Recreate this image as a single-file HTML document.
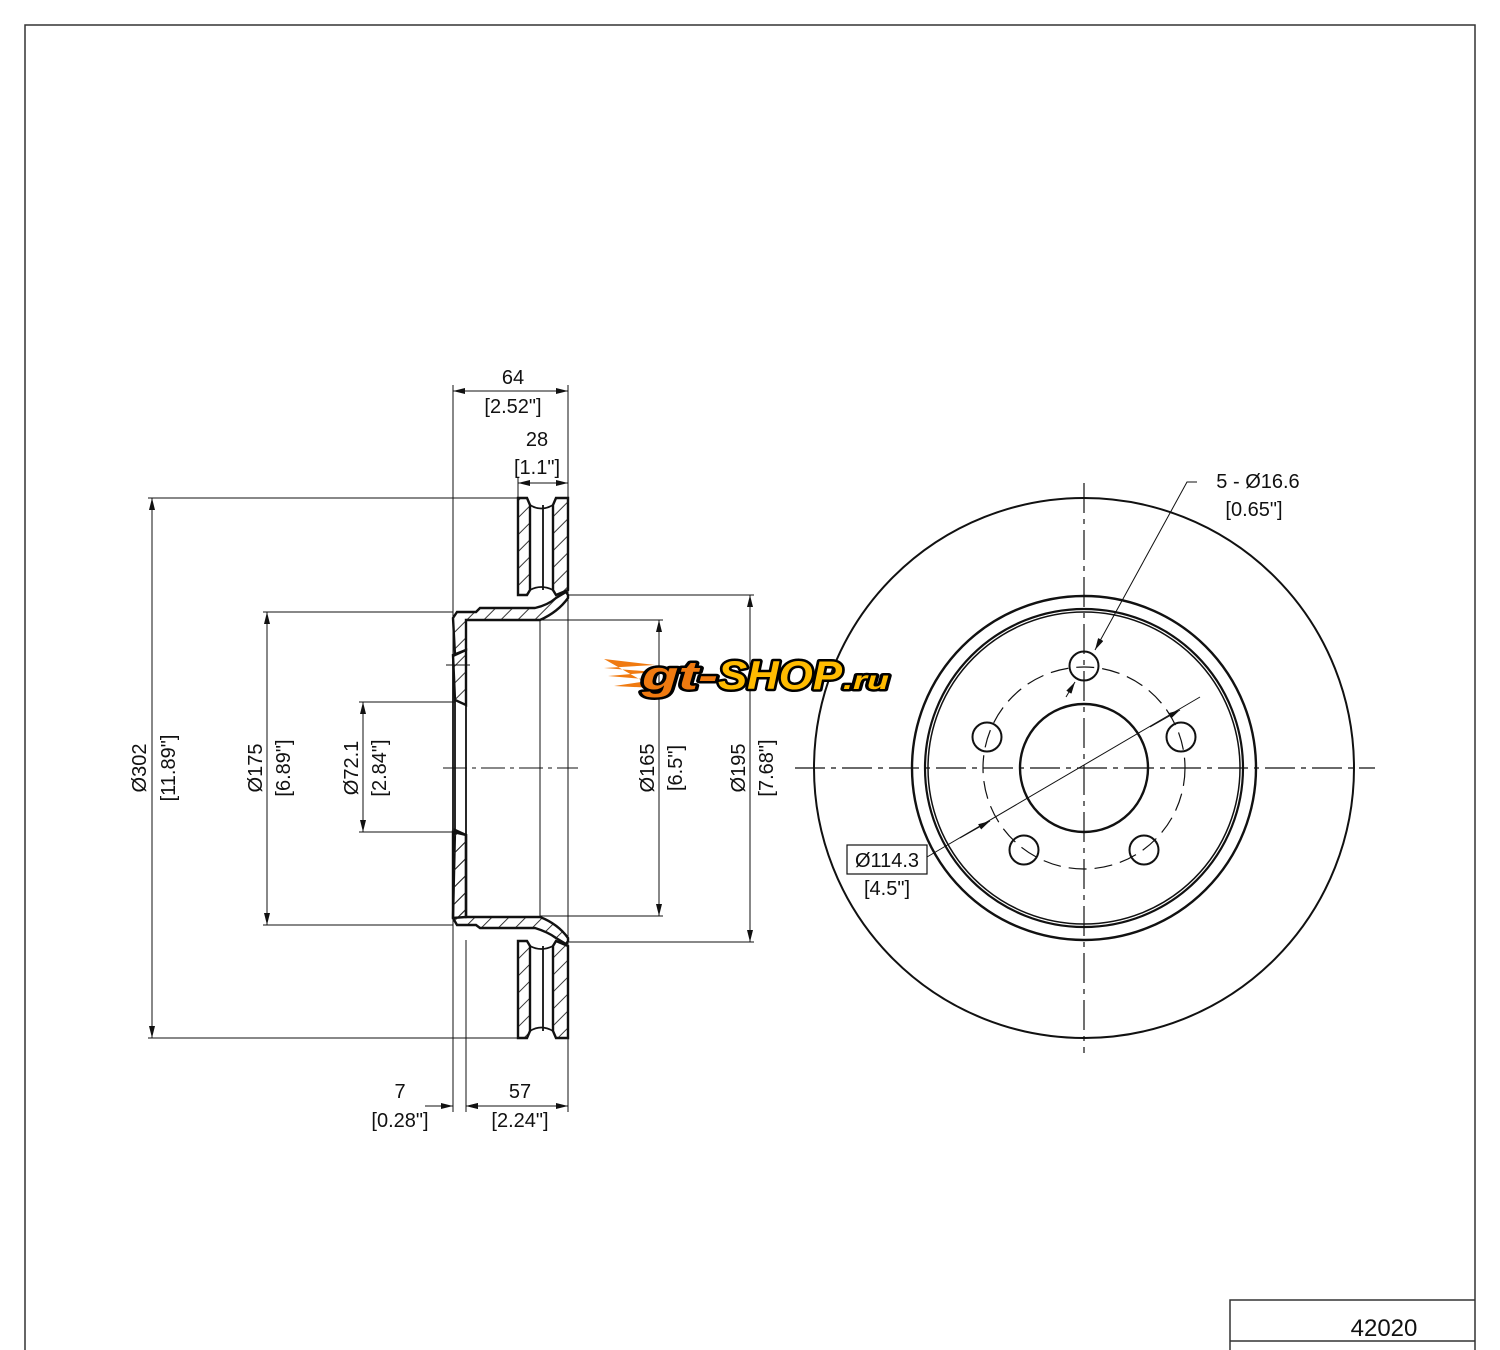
<!DOCTYPE html>
<html><head><meta charset="utf-8"><style>
html,body{margin:0;padding:0;background:#fff;}
svg{display:block;}
text{font-family:"Liberation Sans","DejaVu Sans",sans-serif;}
.t{font-size:20px;fill:#111;}
</style></head><body>
<svg width="1500" height="1350" viewBox="0 0 1500 1350" xmlns="http://www.w3.org/2000/svg">
<defs>
<marker id="a" viewBox="0 0 12 6" refX="12" refY="3" markerWidth="12" markerHeight="6" orient="auto-start-reverse" markerUnits="userSpaceOnUse"><path d="M0,0 L12,3 L0,6z" fill="#111"/></marker>
<pattern id="h" width="12" height="12" patternUnits="userSpaceOnUse" patternTransform="rotate(45)"><line x1="0" y1="0" x2="0" y2="12" stroke="#222" stroke-width="1.8"/></pattern>
</defs>
<path d="M25,1350 V25 H1475 V1350" fill="none" stroke="#333" stroke-width="1.5"/>
<path d="M1230,1350 V1300 H1475 M1230,1341 H1475" fill="none" stroke="#333" stroke-width="1.5"/>
<text x="1384" y="1336" text-anchor="middle" style="font-size:24px;fill:#111">42020</text>

<g stroke="#111" fill="none">
<g stroke-width="1">
<line x1="453" y1="385" x2="453" y2="1112"/>
<line x1="466" y1="940" x2="466" y2="1112"/>
<line x1="568" y1="385" x2="568" y2="1112"/>
<line x1="518" y1="477" x2="518" y2="498"/>
<line x1="148" y1="498" x2="518" y2="498"/>
<line x1="148" y1="1038" x2="518" y2="1038"/>
<line x1="263" y1="612" x2="453" y2="612"/>
<line x1="263" y1="925" x2="453" y2="925"/>
<line x1="359" y1="702" x2="455" y2="702"/>
<line x1="359" y1="832" x2="455" y2="832"/>
<line x1="540" y1="620" x2="663" y2="620"/>
<line x1="540" y1="916" x2="663" y2="916"/>
<line x1="568" y1="595" x2="754" y2="595"/>
<line x1="568" y1="942" x2="754" y2="942"/>
<line x1="540" y1="620" x2="540" y2="916"/>
</g>
<g stroke-width="1" marker-start="url(#a)" marker-end="url(#a)">
<line x1="453" y1="391" x2="568" y2="391"/>
<line x1="518" y1="483" x2="568" y2="483"/>
<line x1="152" y1="498" x2="152" y2="1038"/>
<line x1="267" y1="612" x2="267" y2="925"/>
<line x1="363" y1="702" x2="363" y2="832"/>
<line x1="659" y1="620" x2="659" y2="916"/>
<line x1="750" y1="595" x2="750" y2="942"/>
<line x1="466" y1="1106" x2="568" y2="1106"/>
</g>
<line x1="425" y1="1106" x2="453" y2="1106" stroke-width="1" marker-end="url(#a)"/>
<line x1="494" y1="1106" x2="466" y2="1106" stroke-width="1" marker-end="url(#a)"/>
<line x1="443" y1="768" x2="578" y2="768" stroke-width="1" stroke-dasharray="24,5,4,5"/>
</g>

<g stroke="#111" stroke-width="2.4" fill="url(#h)">
<path d="M518,498 H527 L530,505 V590 L527,595 H518 Z"/>
<path d="M556,498 H568 V590 L556,595 L553,590 V505 Z"/>
<path d="M518,1038 H527 L530,1031 V946 L527,941 H518 Z"/>
<path d="M556,1038 H568 V946 L556,941 L553,946 V1031 Z"/>
<path d="M453,618 L457,612 L476,612 L480,608 H535 Q548,605 556,598 L566,592 L568,595 V598 Q558,612 540,620 H466 V650 L455,655 L453,618 Z"/>
<path d="M453,918 L457,925 L476,925 L480,928 H535 Q548,932 556,938 L566,944 L568,941 V938 Q558,924 540,917 H466 V835 L455,830 L453,918 Z"/>
<path d="M453,655 L466,650 V705 L455,700 Z" />
<path d="M453,832 V918 L466,917 V835 Z"/>
</g>
<g stroke="#111" stroke-width="1.8" fill="none">
<line x1="543" y1="505" x2="543" y2="590"/>
<line x1="543" y1="946" x2="543" y2="1031"/>
<path d="M530,505 Q541,512 553,505 M530,590 Q541,584 553,590 M530,946 Q541,952 553,946 M530,1031 Q541,1024 553,1031"/>
<line x1="453" y1="655" x2="453" y2="918"/>
<line x1="455" y1="700" x2="455" y2="832"/>
<line x1="466" y1="700" x2="466" y2="835"/>
<line x1="446" y1="665" x2="470" y2="665" stroke-width="1"/>
</g>

<g class="t" text-anchor="middle">
<text class="t" x="513" y="384">64</text>
<text class="t" x="513" y="413">[2.52"]</text>
<text class="t" x="537" y="446">28</text>
<text class="t" x="537" y="474">[1.1"]</text>
<text class="t" x="400" y="1098">7</text>
<text class="t" x="400" y="1127">[0.28"]</text>
<text class="t" x="520" y="1098">57</text>
<text class="t" x="520" y="1127">[2.24"]</text>
<text class="t" transform="translate(146,768) rotate(-90)">Ø302</text>
<text class="t" transform="translate(175,768) rotate(-90)">[11.89"]</text>
<text class="t" transform="translate(262,768) rotate(-90)">Ø175</text>
<text class="t" transform="translate(290,768) rotate(-90)">[6.89"]</text>
<text class="t" transform="translate(358,768) rotate(-90)">Ø72.1</text>
<text class="t" transform="translate(386,768) rotate(-90)">[2.84"]</text>
<text class="t" transform="translate(654,768) rotate(-90)">Ø165</text>
<text class="t" transform="translate(682,768) rotate(-90)">[6.5"]</text>
<text class="t" transform="translate(745,768) rotate(-90)">Ø195</text>
<text class="t" transform="translate(773,768) rotate(-90)">[7.68"]</text>
<text class="t" x="1258" y="488">5 - Ø16.6</text>
<text class="t" x="1254" y="516">[0.65"]</text>
<text class="t" x="887" y="867">Ø114.3</text>
<text class="t" x="887" y="895">[4.5"]</text>
</g>

<g stroke="#111" fill="none">
<circle cx="1084" cy="768" r="270" stroke-width="2"/>
<circle cx="1084" cy="768" r="172" stroke-width="2.4"/>
<circle cx="1084" cy="768" r="159" stroke-width="2.2"/>
<circle cx="1084" cy="768" r="156" stroke-width="1.5"/>
<circle cx="1084" cy="768" r="64" stroke-width="2.4"/>
<circle cx="1084" cy="768" r="101" stroke-width="1.2" stroke-dasharray="18,8"/>
<g stroke-width="2">
<circle cx="1084" cy="666" r="14.5"/>
<circle cx="1181" cy="737" r="14.5"/>
<circle cx="1144" cy="850" r="14.5"/>
<circle cx="1024" cy="850" r="14.5"/>
<circle cx="987" cy="737" r="14.5"/>
</g>
<line x1="795" y1="768" x2="1375" y2="768" stroke-width="1.2" stroke-dasharray="30,6,5,6"/>
<line x1="1084" y1="483" x2="1084" y2="1053" stroke-width="1.2" stroke-dasharray="30,6,5,6"/>
<line x1="927" y1="857" x2="1200" y2="697" stroke-width="1"/>
<line x1="960" y1="838" x2="990" y2="821" stroke-width="1" marker-end="url(#a)"/>
<line x1="1150" y1="727" x2="1180" y2="710" stroke-width="1" marker-end="url(#a)"/>
<polyline points="1197,482 1187,482 1095,650" stroke-width="1" marker-end="url(#a)"/>
<line x1="1066" y1="697" x2="1075" y2="682" stroke-width="1" marker-end="url(#a)"/>
<rect x="847" y="845" width="80" height="29" stroke-width="1.2"/>
</g>

<!-- logo -->
<g>
<path d="M604,659 L655,665 L604,668 L655,672 L608,676 L655,680 L614,686 L655,688 Z" fill="#f07a10"/>
<g style="font-weight:bold;font-style:italic;fill:#000;stroke:#000;stroke-width:5px;stroke-linejoin:round">
<text x="642" y="689" style="font-size:40px" textLength="76" lengthAdjust="spacingAndGlyphs">gt-</text>
<text x="718" y="689" style="font-size:40px" textLength="124" lengthAdjust="spacingAndGlyphs">SHOP</text>
<text x="843" y="689" style="font-size:26px" textLength="46" lengthAdjust="spacingAndGlyphs">.ru</text>
</g>
<g style="font-weight:bold;font-style:italic">
<text x="642" y="689" style="font-size:40px;fill:#f07a10" textLength="76" lengthAdjust="spacingAndGlyphs">gt-</text>
<text x="718" y="689" style="font-size:40px;fill:#ffbb00" textLength="124" lengthAdjust="spacingAndGlyphs">SHOP</text>
<text x="843" y="689" style="font-size:26px;fill:#ffbb00" textLength="46" lengthAdjust="spacingAndGlyphs">.ru</text>
</g>
</g>
</svg>
</body></html>
